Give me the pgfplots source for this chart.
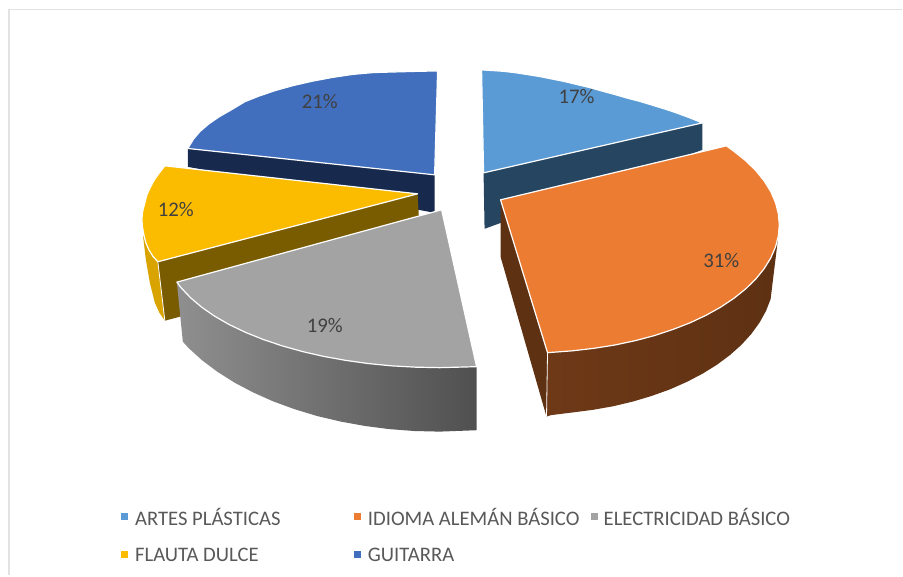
\documentclass[border=0pt]{standalone}
\usepackage{pgfplots}
\usepackage{fontspec}
\setmainfont{Carlito}
\pgfplotsset{compat=1.18}
\definecolor{txt}{HTML}{595959}
\definecolor{pct}{HTML}{404040}
\definecolor{frame}{HTML}{E2E2E2}
\definecolor{cblue}{HTML}{416FBD}
\definecolor{cblueside}{HTML}{172A4E}
\definecolor{cyellow}{HTML}{FBBC00}
\definecolor{cyellowside}{HTML}{7A5C00}
\definecolor{cyellowouter}{HTML}{D9A300}
\definecolor{csteel}{HTML}{5B9BD5}
\definecolor{csteelside}{HTML}{264560}
\definecolor{cgrey}{HTML}{A3A3A3}
\definecolor{cgreyl}{HTML}{8F8F8F}
\definecolor{cgreyr}{HTML}{505050}
\definecolor{corange}{HTML}{EB7C31}
\definecolor{corangel}{HTML}{6E3917}
\definecolor{corangeside}{HTML}{5E3113}
\pgfplotsset{face/.style={no marks, draw=white, line width=0.9pt, line join=round},
  side/.style={no marks, draw=none},
  edge/.style={no marks, white, line width=0.6pt},
  key/.style={only marks, mark=square*, mark size=2.2pt}}
\newcommand{\lab}[2]{\node[font=\fontsize{15.6}{16}\selectfont, text=pct] at (axis cs:#1) {#2};}
\newcommand{\leg}[2]{\node[anchor=west, inner sep=0pt, font=\fontsize{15.5}{16}\selectfont, text=txt] at (axis cs:#1) {#2};}
\begin{document}
\begin{tikzpicture}
\begin{axis}[scale only axis, width=677.25pt, height=432pt, hide axis,
  xmin=0, xmax=903, ymin=0, ymax=576, y dir=reverse, clip=false]
% white page so the whole 903x576 area counts
\addplot[no marks, draw=none, fill=white] coordinates {(0,0) (903,0) (903,576) (0,576)} -- cycle;
% frame
\addplot[no marks, frame, line width=1.2pt] coordinates {(9,576) (9,9.5) (903,9.5)};
% guitarra
\addplot[side, fill=cblueside] coordinates {(188,148) (435,175) (435,213) (188,167)} -- cycle;
\addplot[face, fill=cblue] coordinates {(188,148.6) (193.7,139.2) (200.3,131.5) (208.9,124.1) (219.2,117) (231.1,110.2) (244.7,102) (259.7,96) (276,90.5) (293.7,85.6) (312.5,81.3) (332.1,77.6) (352.8,74.5) (374,72.6) (395.6,72) (417.8,71.4) (438,71) (435,175)} -- cycle;
% flauta
\addplot[side, fill=cyellowouter] coordinates {(143,235) (146,243) (149,250) (153,256.5) (158,262) (165,321) (159.5,313) (155,303) (152.5,293) (150,283) (146,260)} -- cycle;
\addplot[side, fill=cyellowside] coordinates {(158,262) (418,194) (420,232) (180,317) (165,321)} -- cycle;
\addplot[edge] coordinates {(158,262) (165,321)};
\addplot[face, fill=cyellow] coordinates {(165,166) (159.5,173) (154.5,180) (150.5,187.5) (147,195) (144.5,205) (142.7,212) (142,220) (142.7,228) (144,235) (146,243) (149,250) (153,256.5) (158,262) (418,194)} -- cycle;
% artes
\addplot[side, fill=csteelside] coordinates {(484,173) (703,123) (703,150) (485,229)} -- cycle;
\addplot[face, fill=csteel] coordinates {(482,70) (493,70.6) (505,71.5) (516,72.8) (527,74.5) (540,76.6) (552,79) (565,81.6) (577,84.5) (590,87.6) (602,91) (615,94.5) (627,98) (640,101.4) (652,105) (665,109) (677,113) (690,117.8) (703,123) (484,173)} -- cycle;
% electricidad
\addplot[side, left color=cgreyl, right color=cgreyr] coordinates {(177,282.4) (181.6,288.4) (190.8,298.1) (201.9,307.5) (214.7,316.4) (229.3,324.8) (245.6,332.6) (263.2,339.7) (282.2,346.1) (302.5,351.8) (323.8,356.7) (346,360.7) (368.8,363.9) (392.2,366.2) (416,367.5) (440,368) (477,367) (477,430.6) (440,432) (414.7,431.4) (389.6,429.5) (364.9,426.3) (340.8,421.9) (317.4,416.4) (295,409.6) (273.6,401.8) (253.6,392.9) (235,383.1) (217.9,372.3) (202.5,360.8) (188.9,348.5) (183,342)} -- cycle;
\addplot[face, fill=cgrey] coordinates {(442,210) (177,282.4) (181.6,288.4) (190.8,298.1) (201.9,307.5) (214.7,316.4) (229.3,324.8) (245.6,332.6) (263.2,339.7) (282.2,346.1) (302.5,351.8) (323.8,356.7) (346,360.7) (368.8,363.9) (392.2,366.2) (416,367.5) (440,368) (477,367)} -- cycle;
% idioma
\addplot[side, fill=corangeside] coordinates {(501,200) (548,353) (547,417) (501,257)} -- cycle;
\addplot[side, left color=corangel, middle color=corangeside, right color=corangeside] coordinates {(548,353) (573.4,351.1) (594.7,348.6) (615.5,345.3) (635.7,341) (655,335.9) (673.4,329.8) (690.7,323.1) (706.8,315.5) (721.5,307.3) (734.8,298.4) (746.5,289) (756.6,279.1) (764.9,268.8) (771.5,258.1) (776.2,247.2) (779,236.2) (771.3,299.3) (766.7,311.2) (760.2,322.9) (752,334.2) (742.2,345) (730.7,355.3) (717.7,365) (703.2,374) (687.5,382.2) (670.6,389.7) (652.5,396.2) (633.5,401.9) (613.8,406.6) (593.4,410.2) (572.5,412.9) (551.4,415.5) (547,417)} -- cycle;
\addplot[edge] coordinates {(548,353) (547,417)};
\addplot[face, fill=corange] coordinates {(501,200) (727,146) (734.8,151.6) (746.5,161) (756.6,170.9) (764.9,181.2) (771.5,191.9) (776.2,202.8) (779,213.8) (780,225) (779,236.2) (776.2,247.2) (771.5,258.1) (764.9,268.8) (756.6,279.1) (746.5,289) (734.8,298.4) (721.5,307.3) (706.8,315.5) (690.7,323.1) (673.4,329.8) (655,335.9) (635.7,341) (615.5,345.3) (594.7,348.6) (573.4,351.1) (548,353)} -- cycle;
% legend keys
\addplot[key, csteel] coordinates {(124,517)};
\addplot[key, corange] coordinates {(358,517)};
\addplot[key, cgrey] coordinates {(595,517)};
\addplot[key, cyellow] coordinates {(124,555)};
\addplot[key, cblue] coordinates {(358,555)};
\lab{577,97}{17\%}
\lab{722,261}{31\%}
\lab{325,326}{19\%}
\lab{176,210}{12\%}
\lab{320,102}{21\%}
\leg{135,517}{ARTES PLÁSTICAS}
\leg{368,517}{IDIOMA ALEMÁN BÁSICO}
\leg{604,517}{ELECTRICIDAD BÁSICO}
\leg{135,555}{FLAUTA DULCE}
\leg{368,555}{GUITARRA}
\end{axis}
\end{tikzpicture}
\end{document}
